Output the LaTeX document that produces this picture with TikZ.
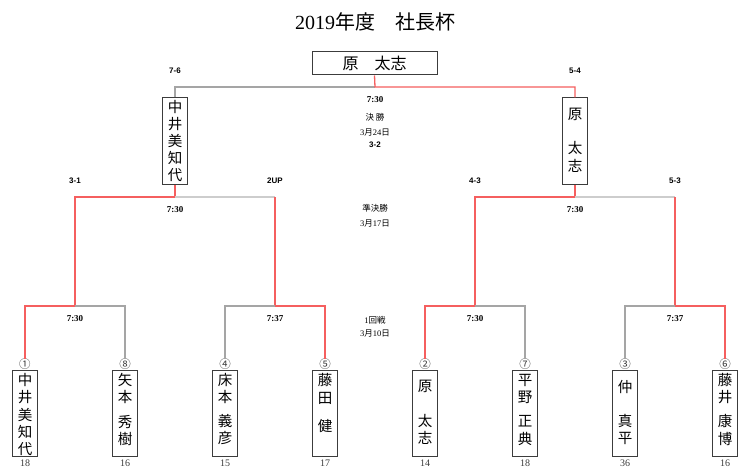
\documentclass[tikz,border=0pt]{standalone}
\usepackage{fontspec}
\setmainfont{Liberation Serif}
\setsansfont{Liberation Sans}
\newfontfamily\jp{Noto Sans CJK JP}
\definecolor{winred}{RGB}{245,95,95}
\definecolor{losegray}{RGB}{165,165,165}
\definecolor{lightgray}{RGB}{205,205,205}
\definecolor{boxc}{RGB}{60,60,60}
\tikzset{
  redline/.style={draw=winred, line width=1.3pt},
  grayline/.style={draw=losegray, line width=1.1pt},
  lgrayline/.style={draw=lightgray, line width=1.3pt},
  pbox/.style={draw=boxc, line width=1pt, minimum width=25pt, minimum height=86pt, inner sep=0pt},
  ch/.style={font=\jp\fontsize{14.5}{14.5}\selectfont, inner sep=0pt},
  lab/.style={font=\sffamily\bfseries\fontsize{8}{8}\selectfont, inner sep=0pt},
  tm/.style={font=\bfseries\fontsize{9}{9}\selectfont, inner sep=0pt},
  info/.style={font=\fontsize{8.5}{8.5}\selectfont, inner sep=0pt},
  circ/.style={font=\jp\fontsize{11.5}{11.5}\selectfont, inner sep=0pt, text=boxc},
  sc/.style={font=\fontsize{10}{10}\selectfont, inner sep=0pt, text=boxc},
}
\begin{document}
\begin{tikzpicture}[x=1pt,y=-1pt]
\useasboundingbox[fill=white] (0,0) rectangle (750,468);
% title
\node[inner sep=0pt, font=\fontsize{20}{20}\selectfont] (title) at (375,22) {2019{\jp 年度　社長杯}};
% champion
\node[draw=boxc, line width=1pt, minimum width=125pt, minimum height=23pt, inner sep=0pt,
      font=\jp\fontsize{16}{16}\selectfont] (W) at (374.5,63.5) {原　太志};
% finalists
\node[pbox, minimum height=87pt] (F1) at (175,141.5) {};
\node[pbox, minimum height=87pt] (F2) at (575,141.5) {};
\foreach \c/\y in {中/107,井/124,美/141,知/158,代/175} \node[ch] at (175,\y) {\c};
\foreach \c/\y in {原/114,太/148,志/166} \node[ch] at (575,\y) {\c};
% players
\node[pbox] (P1) at (25,413) {};
\node[pbox] (P2) at (125,413) {};
\node[pbox] (P3) at (225,413) {};
\node[pbox] (P4) at (325,413) {};
\node[pbox] (P5) at (425,413) {};
\node[pbox] (P6) at (525,413) {};
\node[pbox] (P7) at (625,413) {};
\node[pbox] (P8) at (725,413) {};
\foreach \c/\y in {中/380,井/397,美/415,知/432,代/449} \node[ch] at (25,\y) {\c};
\foreach \c/\y in {矢/380,本/397,秀/422,樹/439} \node[ch] at (125,\y) {\c};
\foreach \c/\y in {床/380,本/397,義/421,彦/438} \node[ch] at (225,\y) {\c};
\foreach \c/\y in {藤/380,田/398,健/426} \node[ch] at (325,\y) {\c};
\foreach \c/\y in {原/386,太/421,志/438} \node[ch] at (425,\y) {\c};
\foreach \c/\y in {平/380,野/397,正/421,典/439} \node[ch] at (525,\y) {\c};
\foreach \c/\y in {仲/387,真/421,平/438} \node[ch] at (625,\y) {\c};
\foreach \c/\y in {藤/380,井/397,康/421,博/439} \node[ch] at (725,\y) {\c};
% seeds
\node[circ] (N1) at (25,364.5) {①};
\node[circ] (N2) at (125,364.5) {⑧};
\node[circ] (N3) at (225,364.5) {④};
\node[circ] (N4) at (325,364.5) {⑤};
\node[circ] (N5) at (425,364.5) {②};
\node[circ] (N6) at (525,364.5) {⑦};
\node[circ] (N7) at (625,364.5) {③};
\node[circ] (N8) at (725,364.5) {⑥};
% scores
\node[sc] (S1) at (25,463) {18};
\node[sc] (S2) at (125,463) {16};
\node[sc] (S3) at (225,463) {15};
\node[sc] (S4) at (325,463) {17};
\node[sc] (S5) at (425,463) {14};
\node[sc] (S6) at (525,463) {18};
\node[sc] (S7) at (625,463) {36};
\node[sc] (S8) at (725,463) {16};
% junctions
\coordinate (jF) at (375,87);
\coordinate (jS1) at (175,197);
\coordinate (jS2) at (575,197);
\coordinate (q1) at (75,306);
\coordinate (q2) at (275,306);
\coordinate (q3) at (475,306);
\coordinate (q4) at (675,306);
% final
\draw[grayline] (jF) -| (F1.north);
\draw[redline] (W.south) -- (jF) -| (F2.north);
% semifinals
\draw[redline] (F1.south) -- (jS1) -| (q1);
\draw[lgrayline] (jS1) -- (jS1 -| q2);
\draw[redline] (jS1 -| q2) -- (q2);
\draw[redline] (F2.south) -- (jS2) -| (q3);
\draw[lgrayline] (jS2) -- (jS2 -| q4);
\draw[redline] (jS2 -| q4) -- (q4);
% first round
\draw[grayline] (q1) -| (N2.north);
\draw[redline] (q1) -| (N1.north);
\draw[grayline] (q2) -| (N3.north);
\draw[redline] (q2) -| (N4.north);
\draw[grayline] (q3) -| (N6.north);
\draw[redline] (q3) -| (N5.north);
\draw[grayline] (q4) -| (N7.north);
\draw[redline] (q4) -| (N8.north);
% match scores
\node[lab] (m1) at (175,71) {7-6};
\node[lab] (m2) at (575,71) {5-4};
\node[lab] (m3) at (75,181) {3-1};
\node[lab] (m4) at (275,181) {2UP};
\node[lab] (m5) at (475,181) {4-3};
\node[lab] (m6) at (675,181) {5-3};
\node[lab] (m7) at (375,145) {3-2};
% times
\node[tm] (t0) at (375,100) {7:30};
\node[tm] (t1) at (175,210) {7:30};
\node[tm] (t2) at (575,210) {7:30};
\node[tm] (t3) at (75,319) {7:30};
\node[tm] (t4) at (275,319) {7:37};
\node[tm] (t5) at (475,319) {7:30};
\node[tm] (t6) at (675,319) {7:37};
% round info
\node[info] (r1) at (375,117) {\jp 決 勝};
\node[info] (r2) at (375,132) {3{\jp 月}24{\jp 日}};
\node[info] (r3) at (375,208) {\jp 準決勝};
\node[info] (r4) at (375,223) {3{\jp 月}17{\jp 日}};
\node[info] (r5) at (375,320) {1{\jp 回戦}};
\node[info] (r6) at (375,333) {3{\jp 月}10{\jp 日}};
\end{tikzpicture}
\end{document}
